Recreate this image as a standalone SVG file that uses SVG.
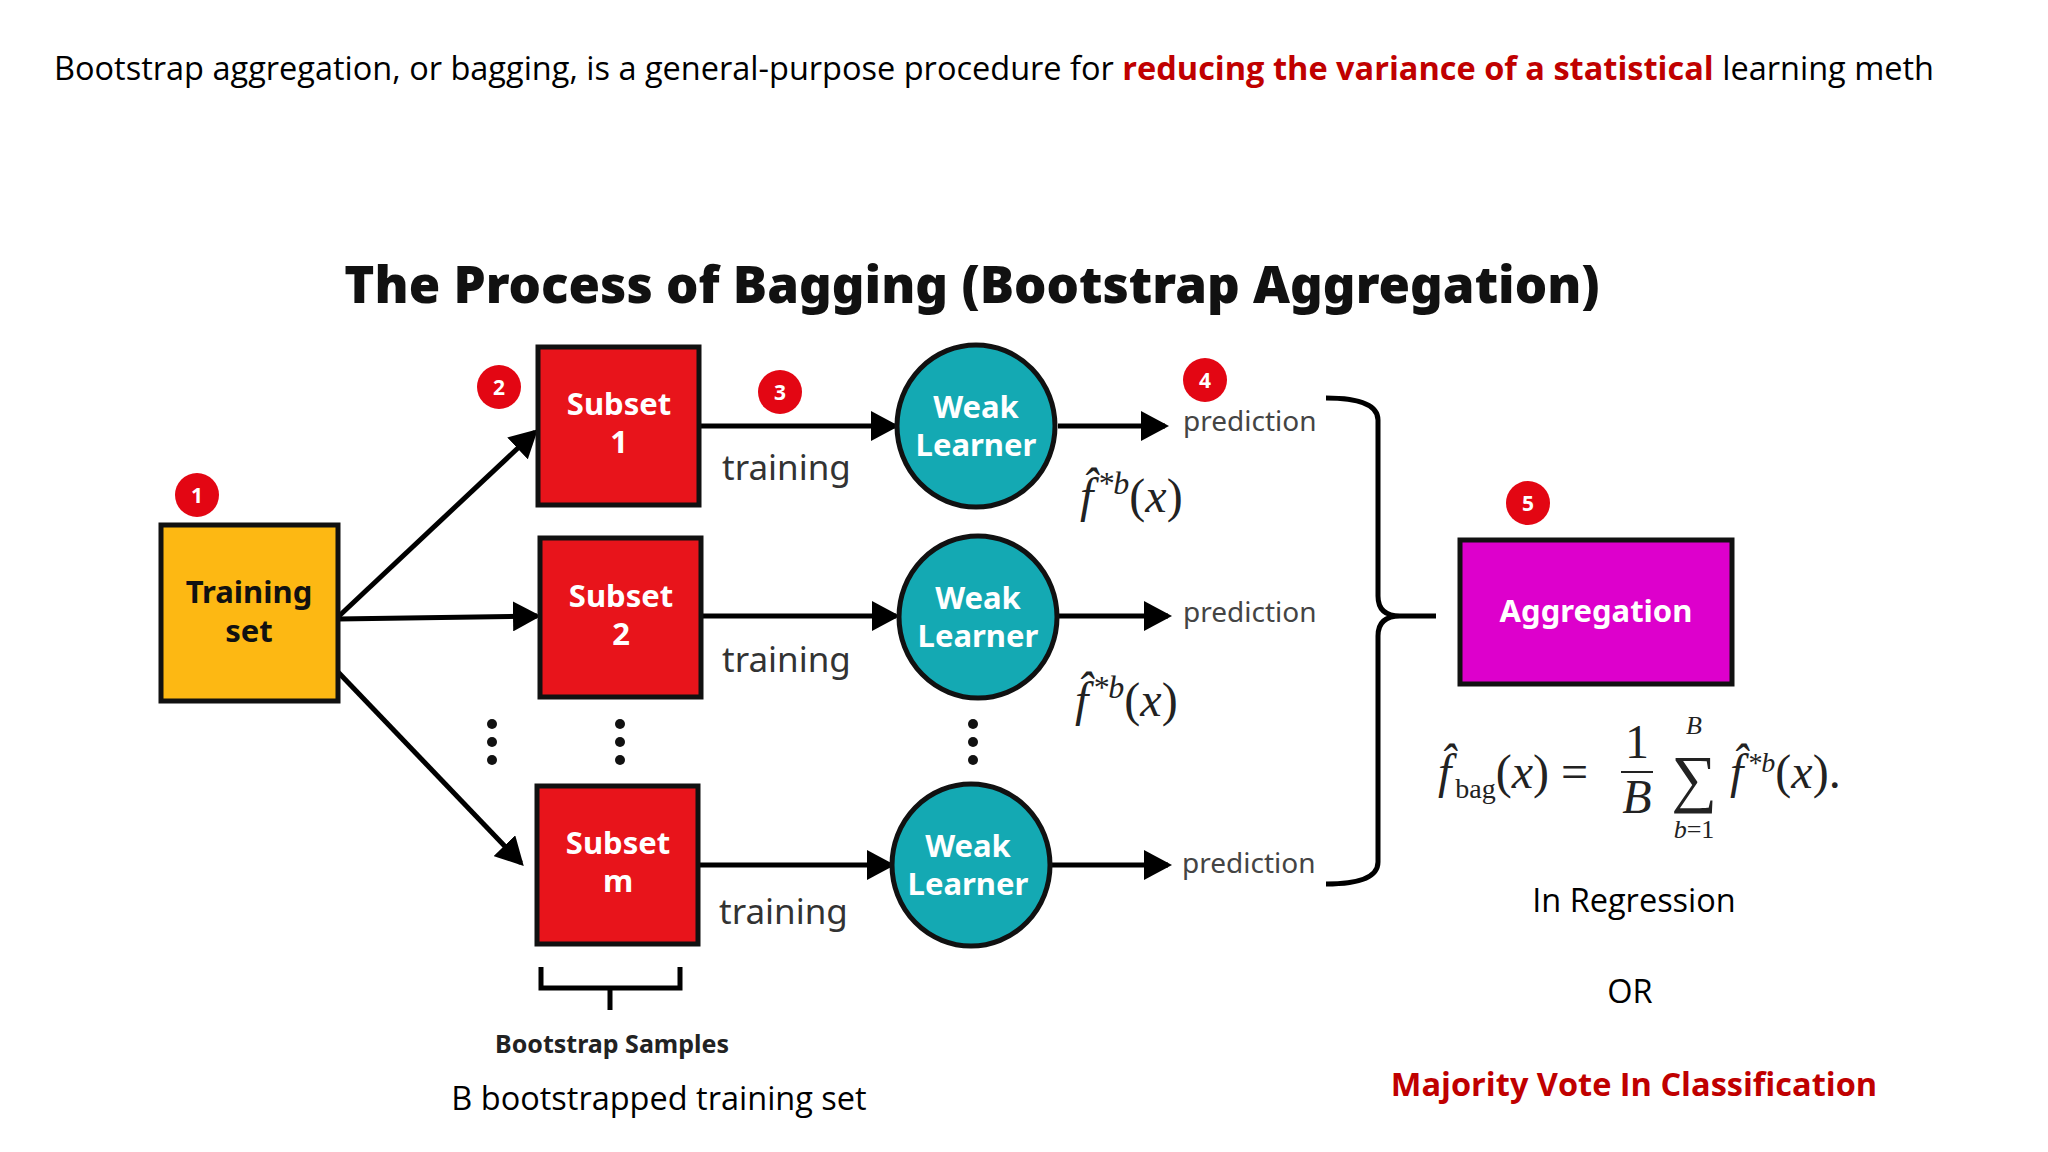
<svg xmlns="http://www.w3.org/2000/svg" width="2048" height="1152" viewBox="0 0 2048 1152">
<defs>
<marker id="ah" markerWidth="28" markerHeight="30" refX="24" refY="15" orient="auto" markerUnits="userSpaceOnUse" viewBox="0 0 28 30">
<path d="M0,0 L28,15 L0,30 Z" fill="#000"/>
</marker>
<style>
.box{stroke:#111;stroke-width:5}
.wl{fill:#14A9B3;stroke:#111;stroke-width:5}
.nt{font-family:"Noto Sans",sans-serif;font-weight:bold;font-size:31px;text-anchor:middle}
.badge{fill:#E30613}
.bt{font-family:"Noto Sans",sans-serif;font-weight:bold;font-size:21px;fill:#fff;text-anchor:middle}
.tr{font-family:"Noto Sans",sans-serif;font-size:35px;fill:#333}
.pr{font-family:"Noto Sans",sans-serif;font-size:28px;fill:#444}
.math{font-family:"Liberation Serif",serif;font-size:48px;fill:#222}
.os{font-family:"Open Sans",sans-serif;font-size:32.5px}
.ln{stroke:#000;stroke-width:5;fill:none}
.dot{fill:#111}
</style>
</defs>
<rect width="2048" height="1152" fill="#fff"/>
<text x="54" y="80" class="os" fill="#000">Bootstrap aggregation, or bagging, is a general-purpose procedure for <tspan fill="#C00000" font-weight="bold">reducing the variance of a statistical</tspan> learning meth</text>
<text x="972" y="303" font-family="Noto Sans, sans-serif" font-weight="900" font-size="51" text-anchor="middle" fill="#111">The Process of Bagging (Bootstrap Aggregation)</text>

<g id="connectors">
<line x1="338" y1="617" x2="535" y2="432" class="ln" marker-end="url(#ah)"/>
<line x1="338" y1="619" x2="537" y2="616" class="ln" marker-end="url(#ah)"/>
<line x1="338" y1="672" x2="521" y2="863" class="ln" marker-end="url(#ah)"/>
<line x1="699" y1="426" x2="895" y2="426" class="ln" marker-end="url(#ah)"/>
<line x1="701" y1="616" x2="896" y2="616" class="ln" marker-end="url(#ah)"/>
<line x1="698" y1="865" x2="891" y2="865" class="ln" marker-end="url(#ah)"/>
<line x1="1058" y1="426" x2="1165" y2="426" class="ln" marker-end="url(#ah)"/>
<line x1="1059" y1="616" x2="1168" y2="616" class="ln" marker-end="url(#ah)"/>
<line x1="1052" y1="865" x2="1168" y2="865" class="ln" marker-end="url(#ah)"/>
<path d="M1326,398 Q1378,398 1378,420 L1378,596 Q1378,616 1400,616 L1436,616 M1400,616 Q1378,616 1378,636 L1378,862 Q1378,884 1326,884" class="ln"/>
<path d="M541,967 L541,988 L680,988 L680,967 M610,988 L610,1010" class="ln"/>
</g>

<g id="training-set">
<rect x="161" y="525" width="177" height="176" fill="#FDB813" class="box"/>
<text x="249" y="603" class="nt" fill="#111">Training</text>
<text x="249" y="642" class="nt" fill="#111">set</text>
<circle cx="197" cy="495" r="22" class="badge"/><text x="197" y="503" class="bt">1</text>
</g>
<g id="subset-1">
<rect x="538" y="347" width="161" height="158" fill="#E8141B" class="box"/>
<text x="619" y="415" class="nt" fill="#fff">Subset</text>
<text x="619" y="453" class="nt" fill="#fff">1</text>
<circle cx="499" cy="387" r="22" class="badge"/><text x="499" y="395" class="bt">2</text>
</g>
<g id="subset-2">
<rect x="540" y="538" width="161" height="159" fill="#E8141B" class="box"/>
<text x="621" y="607" class="nt" fill="#fff">Subset</text>
<text x="621" y="645" class="nt" fill="#fff">2</text>
</g>
<g id="subset-m">
<rect x="537" y="786" width="161" height="158" fill="#E8141B" class="box"/>
<text x="618" y="854" class="nt" fill="#fff">Subset</text>
<text x="618" y="892" class="nt" fill="#fff">m</text>
</g>
<g id="badge-3"><circle cx="780" cy="392" r="22" class="badge"/><text x="780" y="400" class="bt">3</text></g>
<text x="722" y="480" class="tr">training</text>
<text x="722" y="672" class="tr">training</text>
<text x="719" y="924" class="tr">training</text>

<g id="weak-1"><ellipse cx="976" cy="426" rx="79" ry="81" class="wl"/>
<text x="976" y="418" class="nt" fill="#fff">Weak</text><text x="976" y="456" class="nt" fill="#fff">Learner</text></g>
<g id="weak-2"><ellipse cx="978" cy="617" rx="79" ry="81" class="wl"/>
<text x="978" y="609" class="nt" fill="#fff">Weak</text><text x="978" y="647" class="nt" fill="#fff">Learner</text></g>
<g id="weak-m"><ellipse cx="971" cy="865" rx="79" ry="81" class="wl"/>
<text x="968" y="857" class="nt" fill="#fff">Weak</text><text x="968" y="895" class="nt" fill="#fff">Learner</text></g>

<g class="dot">
<circle cx="492" cy="724" r="5"/><circle cx="492" cy="742" r="5"/><circle cx="492" cy="760" r="5"/>
<circle cx="620" cy="724" r="5"/><circle cx="620" cy="742" r="5"/><circle cx="620" cy="760" r="5"/>
<circle cx="973" cy="724" r="5"/><circle cx="973" cy="742" r="5"/><circle cx="973" cy="760" r="5"/>
</g>

<g id="badge-4"><circle cx="1205" cy="380" r="22" class="badge"/><text x="1205" y="388" class="bt">4</text></g>
<text x="1183" y="431" class="pr">prediction</text>
<text x="1183" y="622" class="pr">prediction</text>
<text x="1182" y="873" class="pr">prediction</text>
<text x="1080" y="512" class="math"><tspan font-style="italic">f̂</tspan><tspan font-style="italic" font-size="32" dx="4" dy="-18">*b</tspan><tspan dy="18">(</tspan><tspan font-style="italic">x</tspan>)</text>
<text x="1075" y="716" class="math"><tspan font-style="italic">f̂</tspan><tspan font-style="italic" font-size="32" dx="4" dy="-18">*b</tspan><tspan dy="18">(</tspan><tspan font-style="italic">x</tspan>)</text>

<g id="aggregation">
<rect x="1460" y="540" width="272" height="144" fill="#DD00CC" class="box"/>
<text x="1596" y="622" class="nt" fill="#fff" font-size="28">Aggregation</text>
<circle cx="1528" cy="503" r="22" class="badge"/><text x="1528" y="511" class="bt">5</text>
</g>

<g id="formula" class="math" font-size="42">
<text x="1438" y="788"><tspan font-style="italic">f̂</tspan><tspan font-size="28" dx="4" dy="10">bag</tspan><tspan dy="-10">(</tspan><tspan font-style="italic">x</tspan>) =</text>
<text x="1637" y="758" text-anchor="middle">1</text>
<line x1="1621" y1="772" x2="1653" y2="772" stroke="#222" stroke-width="2"/>
<text x="1637" y="813" text-anchor="middle" font-style="italic">B</text>
<text x="1694" y="800" text-anchor="middle" font-size="64">∑</text>
<text x="1694" y="734" text-anchor="middle" font-size="26" font-style="italic">B</text>
<text x="1694" y="838" text-anchor="middle" font-size="26"><tspan font-style="italic">b</tspan>=1</text>
<text x="1730" y="788"><tspan font-style="italic">f̂</tspan><tspan font-size="28" font-style="italic" dx="4" dy="-16">*b</tspan><tspan dy="16">(</tspan><tspan font-style="italic">x</tspan>).</text>
</g>

<text x="1634" y="912" class="os" fill="#000" text-anchor="middle">In Regression</text>
<text x="1630" y="1003" class="os" fill="#000" text-anchor="middle">OR</text>
<text x="1634" y="1096" class="os" fill="#C00000" text-anchor="middle" font-weight="bold">Majority Vote In Classification</text>

<text x="612" y="1053" font-family="Noto Sans, sans-serif" font-weight="bold" font-size="25" text-anchor="middle" fill="#222">Bootstrap Samples</text>
<text x="659" y="1110" class="os" fill="#000" text-anchor="middle">B bootstrapped training set</text>
</svg>
